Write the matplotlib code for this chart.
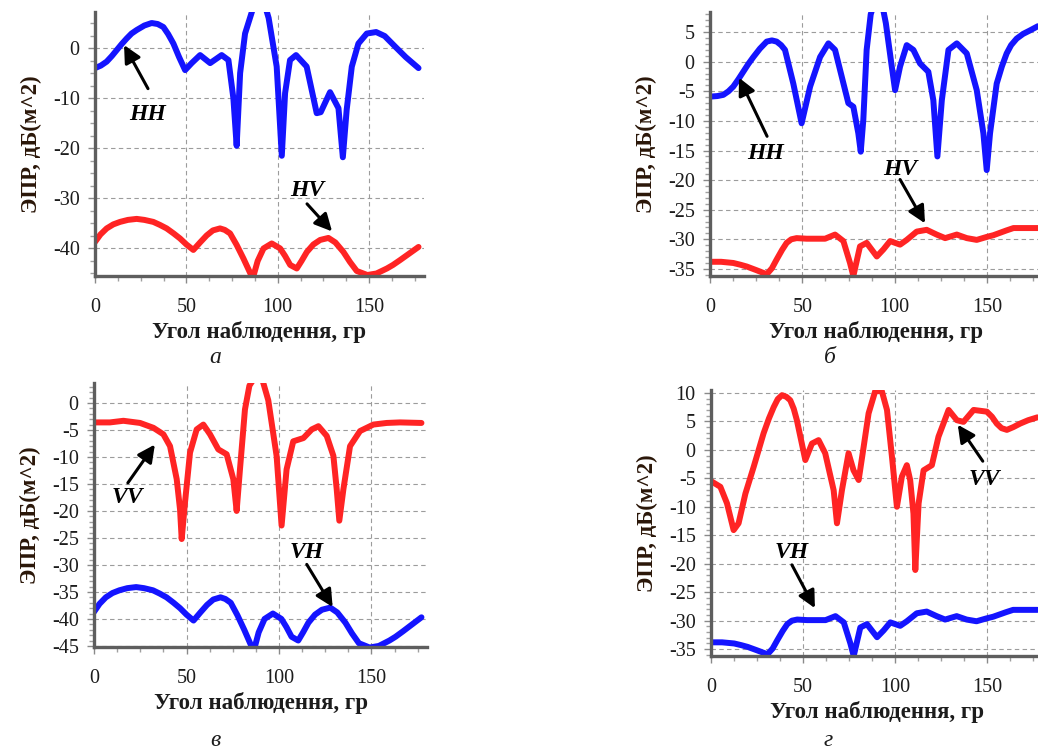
import numpy as np
import matplotlib
matplotlib.use("Agg")
import matplotlib.pyplot as plt
from matplotlib.ticker import MultipleLocator

plt.rcParams['font.family'] = ['Liberation Serif', 'DejaVu Serif']
plt.rcParams['axes.unicode_minus'] = False

# --- данные ---
# а: HH (синяя), HV (красная)
hh_a_x = [0, 3.2, 6.4, 9.2, 11.9, 14.6, 17.3, 20, 22.8, 27,
          31, 34.3, 37.4, 40, 42.9, 46, 49.3, 52.9,
          57.5, 63, 69.3, 73, 75.7, 77.5, 79.4, 82.1, 86.5, 89,
          93, 95, 99.4, 102.2, 104, 106.7, 110, 115.8, 121.3, 123.5,
          128.6, 133.2, 135.6, 137.7, 140.5, 144.1, 148.7, 153.8, 158.5, 164.2,
          170, 177]
hh_a_y = [-4.0, -3.5, -2.7, -1.6, -0.4, 0.8, 1.9, 2.9, 3.6, 4.5,
          5.0, 4.8, 4.2, 2.8, 0.9, -1.8, -4.4, -3.0,
          -1.4, -3.0, -1.4, -2.4, -10, -19.5, -5, 2.9, 8.0, 9.5,
          8.5, 6.0, -3.7, -21.5, -9, -2.4, -1.4, -3.7, -13.0, -12.8,
          -8.8, -12.0, -21.8, -12.3, -3.7, 0.9, 2.9, 3.2, 2.4, 0.3,
          -1.8, -4.0]

hv_a_x = [0, 3, 6.4, 10, 13.7, 18, 22.8, 27, 31.9, 35.5,
          39.2, 43, 46.5, 50, 53.8, 57.5, 61.1, 64.5, 68.4, 71,
          73.9, 77.5, 81.2, 86.3, 89, 92.2, 96.7, 101.3, 104, 106.8,
          110.4, 113, 115.9, 119.5, 123.2, 127.7, 131.5, 135.9, 139.5, 143.2,
          149, 154, 159.7, 163, 167, 172, 177]
hv_a_y = [-38.7, -37.2, -36, -35.2, -34.7, -34.3, -34.1, -34.3, -34.7, -35.3,
          -36, -37, -38, -39.2, -40.3, -38.8, -37.4, -36.4, -36, -36.3,
          -37, -39.3, -42, -46, -42.5, -40, -39, -40, -41.5, -43.3,
          -44, -42.5, -40.7, -39.2, -38.3, -37.9, -38.8, -40.7, -42.7, -44.5,
          -45.3, -45, -44, -43.3, -42.3, -41, -39.7]

# б: HH (синяя), HV (красная)
hh_b_x = [0, 4, 7.2, 10, 12.6, 15.3, 18, 20.7, 23.5, 27,
          30.7, 33.5, 36.1, 38.5, 40.6, 45.1, 49.6,
          54.2, 59.6, 64.1, 67.7, 71.3, 74.9, 77.6, 80.3, 81.6, 83,
          84.8, 87, 89, 93, 95.2, 98.4, 100.2, 102.9, 106.5, 110.1, 113.7,
          118.2, 120.9, 123.1, 125.5, 129.1, 133.6, 139, 144.4, 148, 149.8,
          151.6, 155.2, 158, 160.6, 163, 166, 169.5, 173.3, 177.5]
hh_b_y = [-5.9, -5.8, -5.6, -5.0, -4.2, -3.0, -1.7, -0.4, 0.8, 2.2,
          3.4, 3.6, 3.4, 2.8, 2.0, -3.7, -10.4,
          -4.2, 0.8, 3.1, 2.0, -2.5, -7, -7.6, -12.1, -15.2, -9.8,
          2.0, 8.0, 10.0, 10.0, 6.5, -0.8, -4.8, -0.8, 2.8, 2.0, -0.3,
          -1.7, -6.5, -16, -6.5, 2.0, 3.1, 1.4, -4.8, -12.1, -18.3,
          -12.1, -3.7, -0.8, 1.4, 2.8, 3.9, 4.7, 5.3, 6.0]

hv_b_x = [0, 6, 12.6, 16.5, 19.9, 25, 30.7, 33.5, 36.1, 39,
          41.5, 44, 46.9, 52.3, 62.3, 67.7,
          72.2, 75.8, 77.6, 81.2, 84.8, 90.3, 93.9, 97.5, 102.9, 106.5,
          111.9, 117.3, 122.7, 127.3, 133.6, 139, 144.4, 149.8, 153.5, 157,
          160.5, 164.3, 177.5]
hv_b_y = [-33.8, -33.8, -34, -34.3, -34.6, -35.2, -35.9, -34.9, -33.4, -31.8,
          -30.6, -30.0, -29.8, -29.9, -29.9, -29.2,
          -30.3, -34, -36.2, -31.2, -30.6, -32.9, -31.7, -30.3, -30.9, -30.1,
          -28.7, -28.4, -29.2, -29.8, -29.2, -29.8, -30.1, -29.6, -29.3, -28.9,
          -28.5, -28.1, -28.1]

# в: VV (красная), VH (синяя, совпадает с HV на а)
vv_v_x = [0, 8.6, 15.9, 24.9, 32.1, 37.5, 41.1, 44.7, 46.5, 47.4,
          49.2, 51.9, 55.5, 59.1, 62.7, 67.2, 71.7, 75.3, 77.1, 78.9,
          81.6, 84, 87, 90.6, 94.2, 98.7, 101.4, 104.1, 107.7, 113.2, 117.7,
          121.3, 125.8, 129.4, 131.2, 132.6, 134.8, 138.4, 143.8, 151, 158.2,
          165.4, 177]
vv_v_y = [-3.6, -3.6, -3.3, -3.7, -4.6, -5.8, -8.0, -14.1, -19.7, -25.2,
          -18.4, -9.2, -4.9, -4, -5.8, -8.6, -9.5, -14.1, -20, -12.3,
          -1.2, 3.2, 4.8, 4.8, 0.5, -9.8, -22.7, -12.3, -7.1, -6.5, -4.9,
          -4.3, -6.1, -9.8, -16, -21.8, -16, -8.0, -5.2, -4, -3.7,
          -3.6, -3.7]
vh_v_x = hv_a_x
vh_v_y = hv_a_y

# г: VV (красная), VH (синяя, совпадает с HV на б)
vv_g_x = [0, 5.1, 8.7, 12.3, 15, 18.7, 23.2, 28.6, 31.5, 34.1,
          36.3, 38.6, 41, 43.1, 45, 46.7, 51.3, 54.9, 58.5, 62.1,
          66.7, 68.5, 71.2, 74.8, 77.5, 80.3, 83, 85.7, 89.3, 92.9,
          95.7, 98.4, 101.1, 103.8, 106.5, 108.3, 110.1, 111.1, 112.9, 115.6,
          120.1, 123.7, 129.2, 133.7, 137.3, 142.8, 150, 152.8, 155.4, 158,
          160.9, 164.5, 168.1, 172.5, 177.5]
vv_g_y = [-5.5, -6.5, -9.4, -14.1, -12.9, -7.7, -3, 2.9, 5.5, 7.5,
          8.9, 9.6, 9.3, 8.7, 7.2, 5.2, -1.8, 1.1, 1.7, -0.6,
          -7.1, -12.9, -7.1, -0.6, -3.6, -5.3, 0.5, 6.4, 10.3, 10.3,
          7, -1.2, -10, -4.7, -2.7, -5.3, -11.2, -21.1, -9.4, -3.6,
          -2.7, 2.3, 7, 5.2, 4.9, 7, 6.7, 5.8, 4.6, 3.8,
          3.5, 4.0, 4.6, 5.2, 5.7]
vh_g_x = hv_b_x
vh_g_y = hv_b_y

BLUE = "#1414ff"
RED = "#ff2424"
TXT = "#1c1c1c"
XLABEL = "Угол наблюдення, гр"
YLABEL = "ЭПР, дБ(м^2)"

W, H = 1038, 749
fig = plt.figure(figsize=(W / 100, H / 100), dpi=100)


def make_axes(left, top, right, bottom):
    # координаты в пикселях исходной картинки
    return fig.add_axes([left / W, 1 - bottom / H, (right - left) / W, (bottom - top) / H])


def style(ax, ylim, ymajor, yminor):
    ax.set_xlim(0, 180)
    ax.set_ylim(*ylim)
    ax.xaxis.set_major_locator(MultipleLocator(50))
    ax.xaxis.set_minor_locator(MultipleLocator(12.5))
    ax.yaxis.set_major_locator(MultipleLocator(ymajor))
    ax.yaxis.set_minor_locator(MultipleLocator(yminor))
    for s in ["top", "right"]:
        ax.spines[s].set_visible(False)
    for s in ["left", "bottom"]:
        ax.spines[s].set_color("#5e5e5e")
        ax.spines[s].set_linewidth(2.4)
    ax.tick_params(which="major", length=5, width=1, color="#8a8a8a",
                   labelsize=14.5, labelcolor=TXT)
    ax.tick_params(axis="x", which="major", pad=11)
    ax.tick_params(axis="y", which="major", pad=6)
    ax.tick_params(which="minor", length=3.5, width=1, color="#a0a0a0")
    ax.grid(True, which="major", linestyle=(0, (4, 3)), color="#9c9c9c", lw=0.8)
    ax.set_axisbelow(True)
    ax.set_xlabel(XLABEL, fontsize=16.5, fontweight="bold", color=TXT, labelpad=3)
    ax.set_ylabel(YLABEL, fontsize=16.5, fontweight="bold", color="#2a1608", labelpad=8)


def label(ax, text, txt_xy, tail, tip):
    ax.annotate("", xy=tip, xytext=tail,
                arrowprops=dict(arrowstyle="-|>", color="black", lw=2.2,
                                mutation_scale=26, shrinkA=0, shrinkB=0))
    ax.text(*txt_xy, text, fontsize=17, fontweight="bold", style="italic",
            ha="center", va="center", color="black")


def curve(ax, x, y, color):
    ax.plot(x, y, color=color, lw=4.3, solid_joinstyle="round", solid_capstyle="round")


# --- а ---
ax = make_axes(95, 12, 424, 276)
curve(ax, hh_a_x, hh_a_y, BLUE)
curve(ax, hv_a_x, hv_a_y, RED)
style(ax, (-45.5, 7.2), 10, 2.5)
label(ax, "HH", (29, -13.3), (29, -8.1), (15.9, 0.6))
label(ax, "HV", (116, -28.5), (116, -31.1), (129.7, -36.6))

# --- б ---
ax = make_axes(710, 12, 1042.5, 276)
curve(ax, hh_b_x, hh_b_y, BLUE)
curve(ax, hv_b_x, hv_b_y, RED)
style(ax, (-36.2, 8.4), 5, 1)
label(ax, "HH", (29.8, -15.5), (30.9, -12.6), (15.7, -2.7))
label(ax, "HV", (102.9, -18.2), (102.9, -19.9), (116.4, -27.3))

# --- в ---
ax = make_axes(94, 383, 427, 647)
curve(ax, vv_v_x, vv_v_y, RED)
curve(ax, vh_v_x, vh_v_y, BLUE)
style(ax, (-45.2, 3.7), 5, 1)
label(ax, "VV", (17.8, -17.5), (18.3, -14.8), (32.9, -7.7))
label(ax, "VH", (115, -27.7), (115, -29.9), (129, -37.8))

# --- г ---
ax = make_axes(711, 390, 1042, 656)
curve(ax, vv_g_x, vv_g_y, RED)
curve(ax, vh_g_x, vh_g_y, BLUE)
style(ax, (-36.2, 10.5), 5, 1)
label(ax, "VV", (148.9, -5.3), (147.8, -2.0), (134.2, 4.4))
label(ax, "VH", (44, -18.1), (44, -20.2), (56.5, -27.8))

# подписи панелей
for s, (px, py) in zip(["а", "б", "в", "г"],
                       [(215, 358), (830, 358), (215, 740), (828, 740)]):
    fig.text(px / W, 1 - py / H, s, fontsize=17, style="italic",
             ha="center", va="center", color=TXT)

plt.savefig("out.png", dpi=100)
